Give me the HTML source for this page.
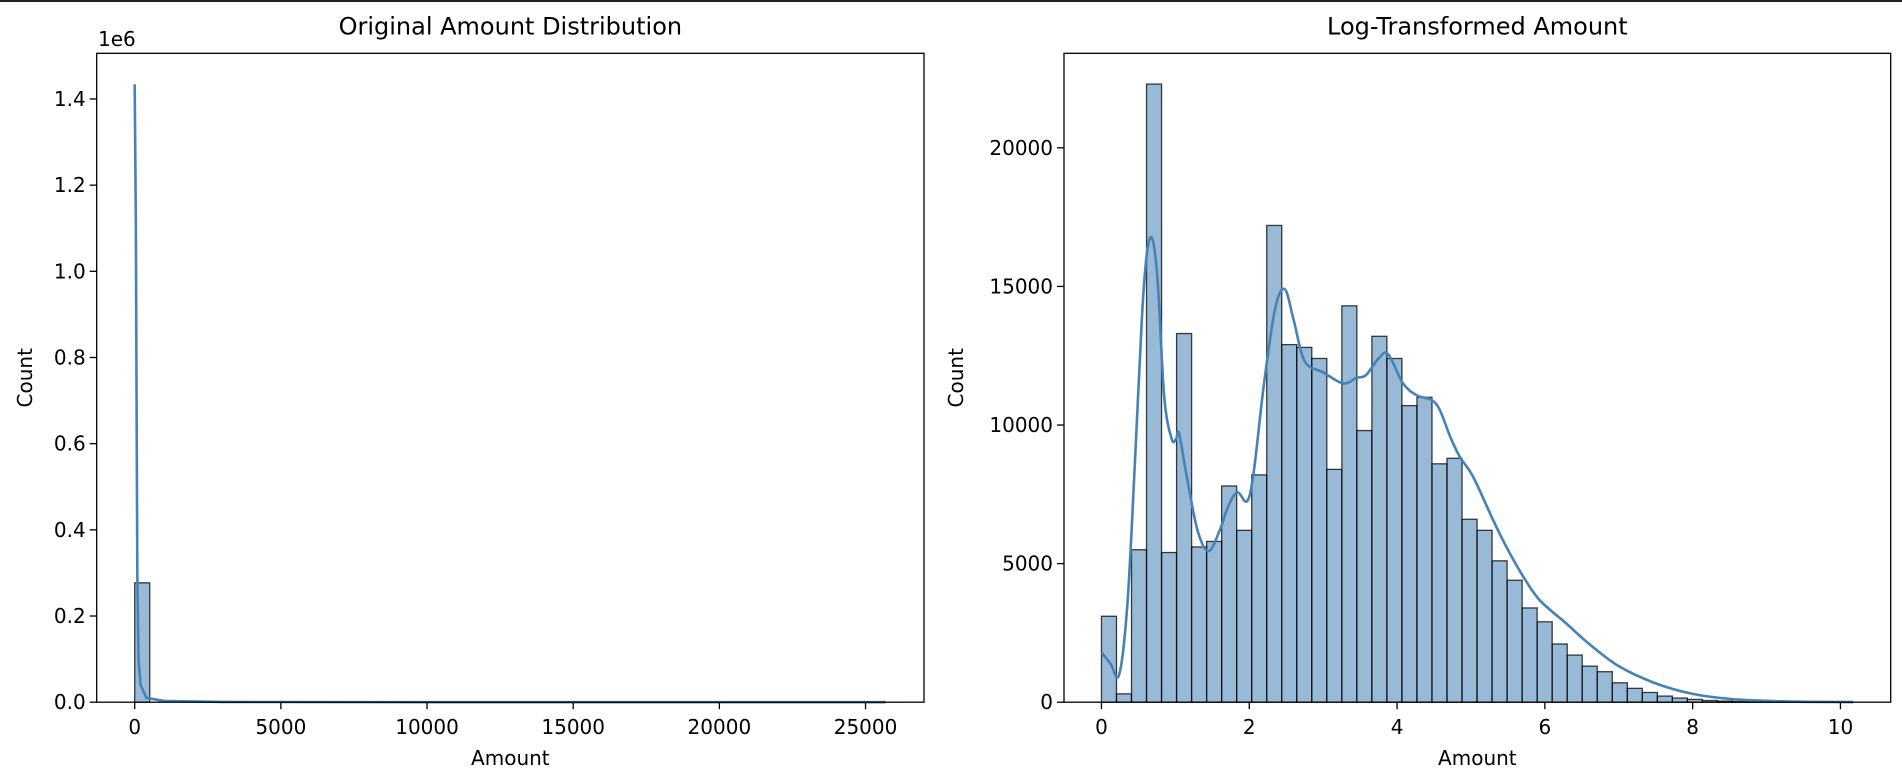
<!DOCTYPE html>
<html><head><meta charset="utf-8">
<style>
html,body{margin:0;padding:0;background:#fff;}
svg{display:block;font-family:"DejaVu Sans","Liberation Sans",sans-serif;}
</style></head>
<body>
<svg id="fig" width="1902" height="784" viewBox="0 0 1902 784" xmlns="http://www.w3.org/2000/svg">
<rect x="0" y="0" width="1902" height="784" fill="#fff"/>
<rect x="0" y="0" width="1902" height="2" fill="#222"/>
<g id="left"></g>
<g id="right"></g>
</svg>
<script>
// ---- Left chart data ----
const leftBinEdges = [0, 514];
const leftBinCounts = [277000];
const leftKdeX = [0, 40, 70, 90, 130, 200, 400, 1000, 3000, 10000, 25691];
const leftKdeY = [1434000, 1100000, 600000, 300000, 100000, 40000, 10000, 3000, 500, 50, 0];
const leftXTicks = [0, 5000, 10000, 15000, 20000, 25000];
const leftXTickLabels = ["0", "5000", "10000", "15000", "20000", "25000"];
const leftYTicks = [0, 200000, 400000, 600000, 800000, 1000000, 1200000, 1400000];
const leftYTickLabels = ["0.0", "0.2", "0.4", "0.6", "0.8", "1.0", "1.2", "1.4"];

// ---- Right chart data ----
const rightBinWidth = 0.2033;
const rightBinCounts = [3100, 300, 5500, 22300, 5400, 13300, 5600, 5800, 7800, 6200,
  8200, 17200, 12900, 12800, 12400, 8400, 14300, 9800, 13200, 12400,
  10700, 11000, 8600, 8800, 6600, 6200, 5100, 4400, 3400, 2900,
  2100, 1700, 1300, 1100, 700, 500, 350, 220, 150, 100,
  60, 40, 25, 15, 10, 6, 4, 3, 2, 1];
const rightKdeX = [0, 0.12, 0.24, 0.35, 0.45, 0.55, 0.62, 0.69, 0.76, 0.85, 0.95, 1.01, 1.05, 1.15, 1.3, 1.45, 1.6, 1.72, 1.84, 1.97, 2.06, 2.2, 2.35, 2.48, 2.6, 2.75, 3.0, 3.27, 3.45, 3.58, 3.75, 3.88, 4.08, 4.27, 4.47, 4.58, 4.72, 4.85, 5.03, 5.3, 5.48, 5.71, 5.93, 6.29, 6.6, 7.0, 7.5, 8.0, 8.5, 9.0, 9.5, 10.17];
const rightKdeY = [1800, 1400, 1000, 3500, 8500, 14000, 16300, 16700, 15200, 11000, 9500, 9500, 9700, 8200, 6200, 5450, 6200, 7100, 7570, 7250, 8300, 11500, 14200, 14900, 13800, 12300, 11900, 11500, 11700, 11800, 12400, 12550, 11500, 11070, 10900, 10530, 9570, 8850, 8130, 6570, 5600, 4520, 3680, 2840, 2100, 1300, 680, 300, 120, 50, 15, 5];
const rightXTicks = [0, 2, 4, 6, 8, 10];
const rightXTickLabels = ["0", "2", "4", "6", "8", "10"];
const rightYTicks = [0, 5000, 10000, 15000, 20000];
const rightYTickLabels = ["0", "5000", "10000", "15000", "20000"];

const NS = "http://www.w3.org/2000/svg";
function mk(tag, attrs, parent) {
  const e = document.createElementNS(NS, tag);
  for (const k in attrs) e.setAttribute(k, attrs[k]);
  parent.appendChild(e);
  return e;
}
const TOP = 53.3, BOT = 702.2;

function drawAxes(g, box, xs, ys, xT, xTL, yT, yTL, title, id) {
  xT.forEach((v, i) => {
    const x = xs(v);
    mk("line", {x1: x, x2: x, y1: BOT, y2: BOT + 7, stroke: "#000", "stroke-width": 1.3}, g);
    const t = mk("text", {x: x, y: BOT + 32, "text-anchor": "middle", "font-size": 20, fill: "#000"}, g);
    t.textContent = xTL[i];
    
    
  });
  yT.forEach((v, i) => {
    const y = ys(v);
    mk("line", {x1: box.x0 - 7, x2: box.x0, y1: y, y2: y, stroke: "#000", "stroke-width": 1.3}, g);
    const t = mk("text", {x: box.x0 - 11, y: y + 7, "text-anchor": "end", "font-size": 20, fill: "#000"}, g);
    t.textContent = yTL[i];
    
    
  });
  mk("rect", {x: box.x0, y: TOP, width: box.x1 - box.x0, height: BOT - TOP, fill: "none", stroke: "#000", "stroke-width": 1.3}, g);
  const tt = mk("text", {x: (box.x0 + box.x1) / 2, y: TOP - 19, "text-anchor": "middle", "font-size": 24, fill: "#000"}, g);
  tt.textContent = title;
  
  
  const xl = mk("text", {x: (box.x0 + box.x1) / 2, y: 765, "text-anchor": "middle", "font-size": 20, fill: "#000"}, g);
  xl.textContent = "Amount";
  
  
  const yx = box.ylabX, yy = (TOP + BOT) / 2;
  const yl = mk("text", {x: yx, y: yy, "text-anchor": "middle", "font-size": 20, fill: "#000", transform: `rotate(-90 ${yx} ${yy})`, dy: 7}, g);
  yl.textContent = "Count";
  
  
}

function drawLine(g, xs, ys, X, Y, smooth) {
  const P = X.map((v, i) => [xs(v), ys(Y[i])]);
  let d = "M" + P[0][0].toFixed(2) + " " + P[0][1].toFixed(2);
  for (let i = 0; i < P.length - 1; i++) {
    if (!smooth) { d += "L" + P[i + 1][0].toFixed(2) + " " + P[i + 1][1].toFixed(2); continue; }
    const p0 = P[Math.max(0, i - 1)], p1 = P[i], p2 = P[i + 1], p3 = P[Math.min(P.length - 1, i + 2)];
    const c1 = [p1[0] + (p2[0] - p0[0]) / 6, p1[1] + (p2[1] - p0[1]) / 6];
    const c2 = [p2[0] - (p3[0] - p1[0]) / 6, p2[1] - (p3[1] - p1[1]) / 6];
    d += "C" + c1[0].toFixed(2) + " " + c1[1].toFixed(2) + " " + c2[0].toFixed(2) + " " + c2[1].toFixed(2) + " " + p2[0].toFixed(2) + " " + p2[1].toFixed(2);
  }
  const p = mk("path", {d: d, fill: "none", stroke: "#4682b4", "stroke-width": 2.6, "stroke-linejoin": "round"}, g);
  
  
}

// ---- Left ----
(function () {
  const g = document.getElementById("left");
  const box = {x0: 96.7, x1: 924, ylabX: 25};
  const xmin = -1300, xmax = 27000, ymax = 1506000;
  const xs = v => box.x0 + (v - xmin) / (xmax - xmin) * (box.x1 - box.x0);
  const ys = v => BOT - v / ymax * (BOT - TOP);
  leftBinCounts.forEach((c, i) => {
    const r = mk("rect", {x: xs(leftBinEdges[i]), y: ys(c), width: xs(leftBinEdges[i + 1]) - xs(leftBinEdges[i]), height: BOT - ys(c), fill: "rgba(70,130,180,0.55)", stroke: "rgba(0,0,0,0.75)", "stroke-width": 1.3}, g);
    
    
  });
  drawLine(g, xs, ys, leftKdeX, leftKdeY, false);
  drawAxes(g, box, xs, ys, leftXTicks, leftXTickLabels, leftYTicks, leftYTickLabels, "Original Amount Distribution", "left-chart");
  const oe = mk("text", {x: 98, y: 46, "font-size": 20, fill: "#000"}, g);
  oe.textContent = "1e6";
  
  
})();

// ---- Right ----
(function () {
  const g = document.getElementById("right");
  const box = {x0: 1064, x1: 1890.7, ylabX: 956};
  const xmin = -0.507, xmax = 10.68, ymax = 23410;
  const xs = v => box.x0 + (v - xmin) / (xmax - xmin) * (box.x1 - box.x0);
  const ys = v => BOT - v / ymax * (BOT - TOP);
  rightBinCounts.forEach((c, i) => {
    const a = i * rightBinWidth, b = (i + 1) * rightBinWidth;
    const r = mk("rect", {x: xs(a), y: ys(c), width: xs(b) - xs(a), height: BOT - ys(c), fill: "rgba(70,130,180,0.55)", stroke: "rgba(0,0,0,0.75)", "stroke-width": 1.3}, g);
    
    
  });
  drawLine(g, xs, ys, rightKdeX, rightKdeY, true);
  drawAxes(g, box, xs, ys, rightXTicks, rightXTickLabels, rightYTicks, rightYTickLabels, "Log-Transformed Amount", "right-chart");
})();
</script>
</body></html>
